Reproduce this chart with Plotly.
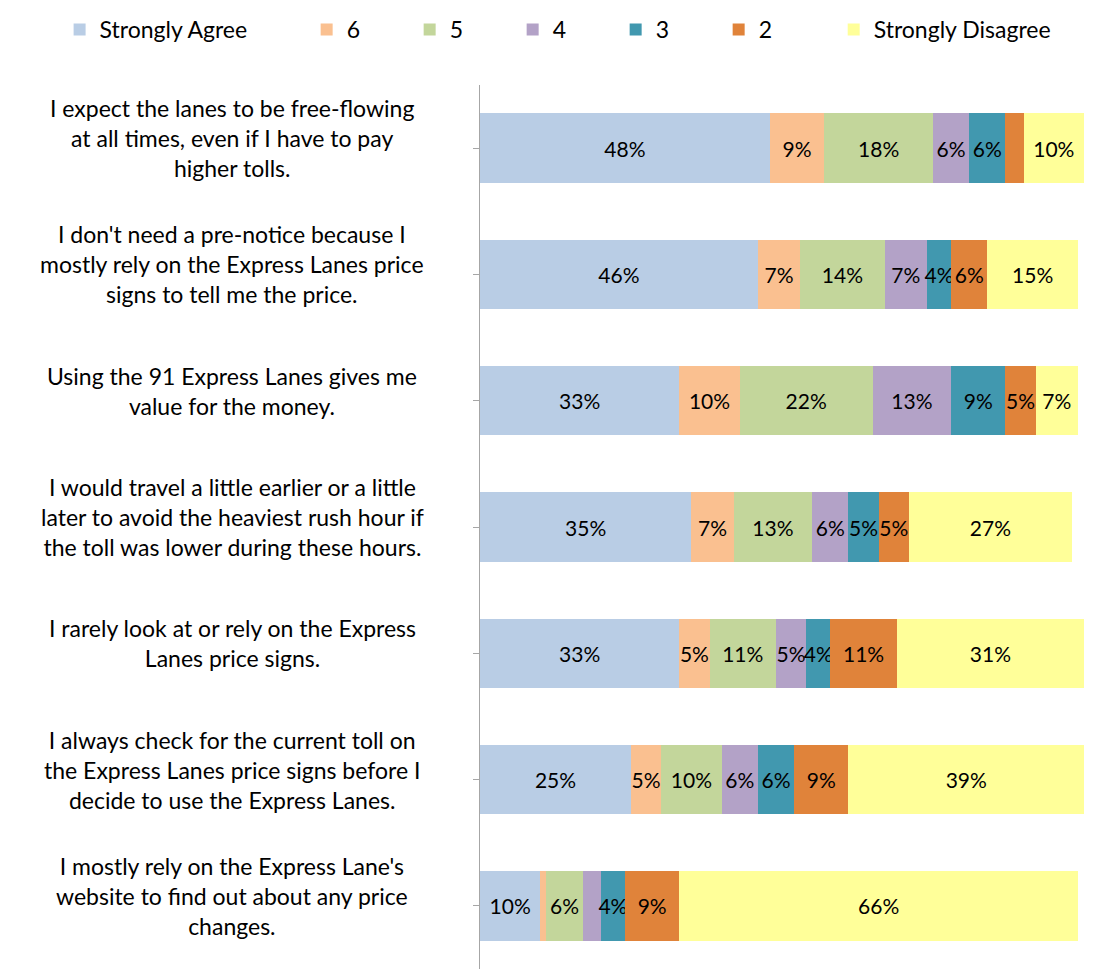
# Stacked agreement scale per statement (91 Express Lanes survey)
import plotly.graph_objects as go

statements = [
    "I expect the lanes to be free-flowing<br>at all times, even if I have to pay<br>higher tolls.",
    "I don't need a pre-notice because I<br>mostly rely on the Express Lanes price<br>signs to tell me the price.",
    "Using the 91 Express Lanes gives me<br>value for the money.",
    "I would travel a little earlier or a little<br>later to avoid the heaviest rush hour if<br>the toll was lower during these hours.",
    "I rarely look at or rely on the Express<br>Lanes price signs.",
    "I always check for the current toll on<br>the Express Lanes price signs before I<br>decide to use the Express Lanes.",
    "I mostly rely on the Express Lane's<br>website to find out about any price<br>changes.",
]

strongly_agree = [48, 46, 33, 35, 33, 25, 10]
six = [9, 7, 10, 7, 5, 5, 1]
five = [18, 14, 22, 13, 11, 10, 6]
four = [6, 7, 13, 6, 5, 6, 3]
three = [6, 4, 9, 5, 4, 6, 4]
two = [3, 6, 5, 5, 11, 9, 9]
strongly_disagree = [10, 15, 7, 27, 31, 39, 66]

series_names = ["Strongly Agree", "6", "5", "4", "3", "2", "Strongly Disagree"]
series_values = [strongly_agree, six, five, four, three, two, strongly_disagree]
colours = ["#B9CDE5", "#FAC090", "#C3D69B", "#B3A2C7", "#4198AF", "#E0833A", "#FFFF99"]
# legend groups: long names sit in their own legend box so the short ones can be spaced evenly
legend_ids = ["legend", "legend2", "legend2", "legend2", "legend2", "legend2", "legend3"]

ids = [f"s{i}" for i in range(len(statements))]

fig = go.Figure()
for name, vals, col, leg in zip(series_names, series_values, colours, legend_ids):
    # small slices carry no label in the original
    labels = [f"{v}%" if v >= 4 else "" for v in vals]
    fig.add_trace(go.Bar(
        y=ids, x=vals, name=name, orientation="h",
        marker=dict(color=col, line=dict(width=0)),
        text=labels, textposition="inside", insidetextanchor="middle",
        textangle=0, cliponaxis=False,
        textfont=dict(color="black", size=21), constraintext="none",
        legend=leg, hoverinfo="skip",
    ))

# statement labels, centred text to the left of the bars
for sid, txt in zip(ids, statements):
    fig.add_annotation(x=-0.41, y=sid, xref="paper", yref="y", yshift=10, text=txt,
                       showarrow=False, xanchor="center", align="center",
                       font=dict(size=23, color="black"))

legend_common = dict(orientation="h", xref="container", xanchor="left",
                     y=1.0, yref="container", yanchor="top", font=dict(size=23),
                     itemwidth=30, traceorder="normal")

fig.update_layout(
    width=1098, height=969,
    barmode="stack", bargap=0.45,
    font=dict(family="Lato, 'Open Sans', sans-serif", size=23, color="black"),
    plot_bgcolor="white", paper_bgcolor="white",
    margin=dict(l=472, r=22, t=77, b=8),
    xaxis=dict(range=[0, 100], visible=False),
    yaxis=dict(autorange="reversed", showticklabels=False, showgrid=False,
               showline=True, linecolor="#A6A6A6", linewidth=1,
               ticks="outside", ticklen=6, tickcolor="#A6A6A6", zeroline=False),
    legend=dict(x=0.047, **legend_common),
    legend2=dict(x=0.272, entrywidth=58, entrywidthmode="pixels", **legend_common),
    legend3=dict(x=0.752, **legend_common),
    showlegend=True,
)

fig.write_html("out.html")
